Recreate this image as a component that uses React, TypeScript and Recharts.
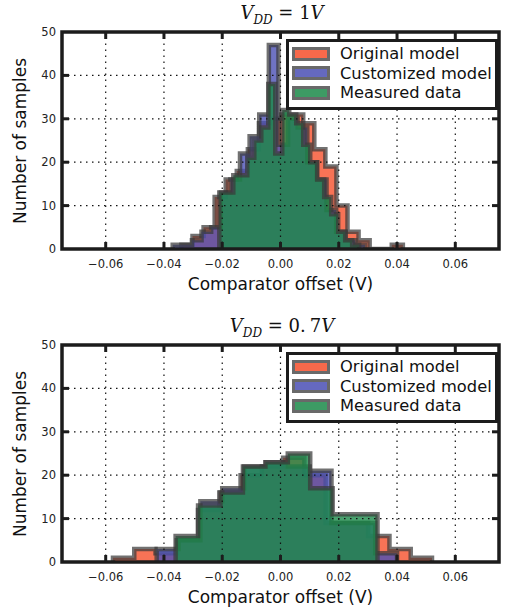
import React from "react";
import {
  ComposedChart,
  Area,
  XAxis,
  YAxis,
  ReferenceLine,
  ReferenceArea,
  Legend,
} from "recharts";

const X_TICKS = [-0.06, -0.04, -0.02, 0, 0.02, 0.04, 0.06];
const Y_TICKS = [0, 10, 20, 30, 40, 50];
const GRID_Y = [10, 20, 30, 40];
const NAMES = ["Original model", "Customized model", "Measured data"];
const COLORS = ["#f6502c", "#4b50b4", "#1c8a4a"];

// V_DD = 1V
const orig1Edges = [
  -0.034, -0.0302, -0.0264, -0.0226, -0.0188, -0.015, -0.0112, -0.0074, -0.0036, 0.0002, 0.004,
  0.0078, 0.0116, 0.0154, 0.0192, 0.023, 0.0268, 0.0306, 0.0344, 0.0382, 0.042,
];
const orig1Counts = [1, 3, 5, 12, 16, 18, 23, 29, 30, 31, 31, 29, 23, 19, 10, 4, 2, 0, 0, 1];

const cust1Edges = [
  -0.037, -0.0337, -0.0304, -0.0271, -0.0238, -0.0205, -0.0172, -0.0139, -0.0106, -0.0073, -0.004,
  -0.0007, 0.0026, 0.0059, 0.0092, 0.0125, 0.0158, 0.0191, 0.0224, 0.0257, 0.029,
];
const cust1Counts = [1, 1, 2, 4, 5, 13, 16, 22, 26, 31, 47, 24, 30, 28, 20, 16, 9, 4, 2, 1];

const meas1Edges = [
  -0.021, -0.0186, -0.0162, -0.0138, -0.0114, -0.009, -0.0066, -0.0042, -0.0018, 0.0006, 0.003,
  0.0054, 0.0078, 0.0102, 0.0126, 0.015, 0.0174, 0.0198, 0.0222, 0.0246, 0.027,
];
const meas1Counts = [13, 13, 17, 17, 21, 25, 28, 38, 22, 32, 31, 29, 24, 20, 16, 12, 8, 4, 2, 1];

// V_DD = 0.7V
const orig2Edges = [
  -0.0575, -0.0502, -0.0429, -0.0356, -0.0283, -0.021, -0.0137, -0.0064, 0.0009, 0.0082, 0.0155,
  0.0228, 0.0301, 0.0374, 0.0447, 0.052,
];
const orig2Counts = [1, 3, 2, 5, 12, 16, 20, 22, 24, 20, 9, 9, 6, 3, 1];

const cust2Edges = [
  -0.0425, -0.035, -0.0275, -0.02, -0.0125, -0.005, 0.0025, 0.01, 0.0175, 0.025, 0.0325, 0.04,
];
const cust2Counts = [3, 5, 14, 17, 22, 23, 22, 21, 9, 9, 2];

const meas2Edges = [-0.036, -0.0283, -0.0206, -0.0129, -0.0052, 0.0025, 0.0102, 0.0179, 0.0256, 0.0333];
const meas2Counts = [6, 13, 16, 22, 23, 25, 17, 11, 11];

const W = 508;
const H = 306;
const PLOT_LEFT = 62;
const PLOT_RIGHT = 499;
const PLOT_H = 217;
const FRAME = "#1c1c1c";
const FONT = "'DejaVu Sans', sans-serif";

// outline of a stepfilled histogram
const steps = (edges: number[], counts: number[]) => {
  const pts = [{ x: edges[0], y: 0 }];
  counts.forEach((c, i) => pts.push({ x: edges[i], y: c }));
  const last = edges[edges.length - 1];
  pts.push({ x: last, y: counts[counts.length - 1] });
  pts.push({ x: last, y: 0 });
  return pts;
};

const fmtX = (v: number) => (v === 0 ? "0.00" : v.toFixed(2).replace("-", "\u2212"));

const LegendBox = () => (
  <div
    style={{
      border: `3px solid ${FRAME}`,
      background: "#fff",
      padding: "2px 0 4px 3px",
      fontFamily: FONT,
      fontSize: 16.3,
      color: "#111",
      boxSizing: "border-box",
    }}
  >
    {NAMES.map((n, i) => (
      <div key={n} style={{ display: "flex", alignItems: "center", height: 19.5 }}>
        <div
          style={{
            width: 32,
            height: 8,
            background: COLORS[i],
            opacity: 0.85,
            border: "3px solid #505050",
            marginRight: 10,
          }}
        />
        <span style={{ lineHeight: "19px" }}>{n}</span>
      </div>
    ))}
  </div>
);

type Hist = { edges: number[]; counts: number[] };

function Panel({ plotTop, title, hists }: { plotTop: number; title: React.ReactNode; hists: Hist[] }) {
  const plotBottom = plotTop + PLOT_H;

  const XTick = (p: any) => (
    <g>
      <line x1={p.x} x2={p.x} y1={plotBottom} y2={plotBottom - 7} stroke={FRAME} strokeWidth={3} />
      <line x1={p.x} x2={p.x} y1={plotTop} y2={plotTop + 7} stroke={FRAME} strokeWidth={3} />
      <text
        x={p.x}
        y={plotBottom + 15}
        textAnchor="middle"
        dominantBaseline="central"
        fontSize={11.5}
        fontFamily={FONT}
        fill="#222"
      >
        {fmtX(p.payload.value)}
      </text>
    </g>
  );

  const YTick = (p: any) => {
    const v = p.payload.value;
    const edge = v === 0 || v === 50;
    return (
      <g>
        {!edge && (
          <>
            <line x1={PLOT_LEFT} x2={PLOT_LEFT + 7} y1={p.y} y2={p.y} stroke={FRAME} strokeWidth={3} />
            <line x1={PLOT_RIGHT - 7} x2={PLOT_RIGHT} y1={p.y} y2={p.y} stroke={FRAME} strokeWidth={3} />
          </>
        )}
        <text
          x={PLOT_LEFT - 6}
          y={p.y}
          textAnchor="end"
          dominantBaseline="central"
          fontSize={11.5}
          fontFamily={FONT}
          fill="#222"
        >
          {v}
        </text>
      </g>
    );
  };

  return (
    <div style={{ position: "relative", width: W, height: H }}>
      <div
        style={{
          position: "absolute",
          left: 0,
          width: W,
          top: plotTop - 31,
          height: 24,
          textAlign: "center",
          paddingLeft: 56,
          boxSizing: "border-box",
          fontFamily: "'DejaVu Serif', serif",
          fontSize: 18,
          lineHeight: "24px",
          color: "#111",
        }}
      >
        {title}
      </div>
      <div
        style={{
          position: "absolute",
          left: 20,
          top: plotTop + PLOT_H / 2,
          transform: "translate(-50%, -50%) rotate(-90deg)",
          whiteSpace: "nowrap",
          fontFamily: FONT,
          fontSize: 17,
          color: "#111",
        }}
      >
        Number of samples
      </div>
      <ComposedChart
        width={W}
        height={H}
        margin={{ top: plotTop, right: W - PLOT_RIGHT, left: PLOT_LEFT - 30, bottom: H - plotBottom - 45 }}
      >
        <XAxis
          type="number"
          dataKey="x"
          domain={[-0.075, 0.075]}
          ticks={X_TICKS}
          interval={0}
          allowDataOverflow
          axisLine={false}
          tickLine={false}
          tickSize={0}
          height={45}
          tick={XTick}
          label={{
            value: "Comparator offset (V)",
            position: "insideBottom",
            offset: 4,
            style: { fontFamily: FONT, fontSize: 17, fill: "#111" },
          }}
        />
        <YAxis
          type="number"
          domain={[0, 50]}
          ticks={Y_TICKS}
          interval={0}
          allowDataOverflow
          axisLine={false}
          tickLine={false}
          tickSize={0}
          width={30}
          tick={YTick}
        />
        {hists.map((h, i) => (
          <Area
            key={NAMES[i]}
            name={NAMES[i]}
            data={steps(h.edges, h.counts)}
            dataKey="y"
            type="stepAfter"
            fill={COLORS[i]}
            fillOpacity={0.8}
            stroke="#3a3a3a"
            strokeOpacity={0.72}
            strokeWidth={4.5}
            dot={false}
            activeDot={false}
            isAnimationActive={false}
          />
        ))}
        {X_TICKS.map((t) => (
          <ReferenceLine key={"gx" + t} x={t} stroke="#111" strokeDasharray="1.5 4.5" strokeWidth={1.2} />
        ))}
        {GRID_Y.map((t) => (
          <ReferenceLine key={"gy" + t} y={t} stroke="#111" strokeDasharray="1.5 4.5" strokeWidth={1.2} />
        ))}
        <ReferenceArea
          x1={-0.075}
          x2={0.075}
          y1={0}
          y2={50}
          fill="none"
          fillOpacity={0}
          stroke={FRAME}
          strokeWidth={3.5}
          ifOverflow="visible"
        />
        <Legend
          layout="vertical"
          align="center"
          verticalAlign="middle"
          wrapperStyle={{ left: 286, top: plotTop + 7, width: 212 }}
          content={() => <LegendBox />}
        />
      </ComposedChart>
    </div>
  );
}

export default function App() {
  return (
    <div style={{ position: "absolute", left: 0, top: 0, width: W, height: 2 * H, background: "#fff" }}>
      <Panel
        plotTop={32}
        title={
          <span>
            <i>V</i>
            <sub style={{ fontStyle: "italic", fontSize: 12 }}>DD</sub> = 1<i>V</i>
          </span>
        }
        hists={[
          { edges: orig1Edges, counts: orig1Counts },
          { edges: cust1Edges, counts: cust1Counts },
          { edges: meas1Edges, counts: meas1Counts },
        ]}
      />
      <Panel
        plotTop={39}
        title={
          <span>
            <i>V</i>
            <sub style={{ fontStyle: "italic", fontSize: 12 }}>DD</sub> = 0.<span style={{ marginLeft: 4 }}>7</span>
            <i>V</i>
          </span>
        }
        hists={[
          { edges: orig2Edges, counts: orig2Counts },
          { edges: cust2Edges, counts: cust2Counts },
          { edges: meas2Edges, counts: meas2Counts },
        ]}
      />
    </div>
  );
}
